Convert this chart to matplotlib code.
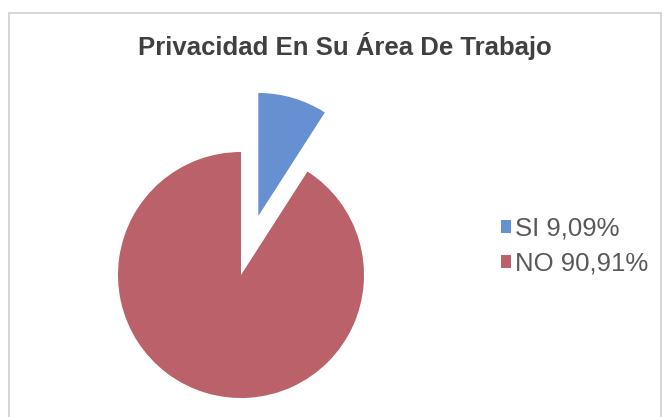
import matplotlib
matplotlib.use("Agg")
import matplotlib.pyplot as plt
from matplotlib.patches import Rectangle

# datos
etiquetas = ["SI", "NO"]
porcentajes = [9.09, 90.91]
colores = ["#6790D2", "#BA6169"]
titulo = "Privacidad En Su Área De Trabajo"

W, H = 666, 417
CX, CY, R = 241, 275, 123      # centro y radio del pastel en px
plt.rcParams["font.family"] = ["Liberation Sans", "DejaVu Sans"]

fig = plt.figure(figsize=(W / 100, H / 100), dpi=100)
fig.patch.set_facecolor("white")

# marco del grafico
fig.patches.append(Rectangle((9 / W, -0.01), 652 / W, 1 - 13 / H + 0.01,
                             transform=fig.transFigure, fill=False,
                             edgecolor="#D0D0D0", lw=1.2))

ax = fig.add_axes([0, 0, 1, 1])
wedges, _ = ax.pie(porcentajes, colors=colores, startangle=90, counterclock=False,
                   explode=[0.5, 0], radius=1, wedgeprops=dict(linewidth=0))
ax.set_xlim(-CX / R, (W - CX) / R)
ax.set_ylim(-(H - CY) / R, CY / R)
ax.axis("off")

fig.text(345 / W, 1 - 46 / H, titulo, ha="center", va="center",
         fontsize=18.5, fontweight="bold", color="#404040")

labels = [f"{e} {str(p).replace('.', ',')}%" for e, p in zip(etiquetas, porcentajes)]
leg = fig.legend(wedges, labels, loc="center left",
                 bbox_to_anchor=(501 / W, 1 - 246 / H), frameon=False,
                 fontsize=18.5, handlelength=0.4, handleheight=0.4,
                 handletextpad=0.15, labelspacing=0.45, borderpad=0,
                 borderaxespad=0)
for t in leg.get_texts():
    t.set_color("#595959")

fig.savefig("out.png", dpi=100)
